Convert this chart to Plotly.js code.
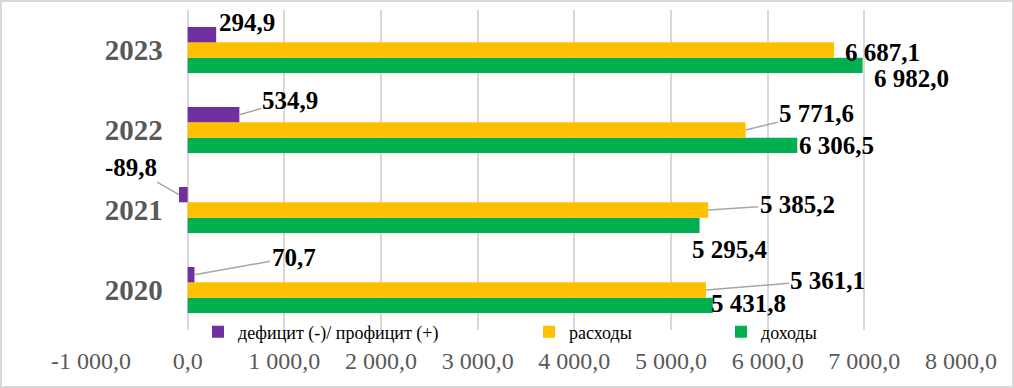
<!DOCTYPE html>
<html><head><meta charset="utf-8">
<script src="https://cdn.plot.ly/plotly-3.0.1.min.js"></script>
<style>
html,body{margin:0;padding:0;background:#fff;}
#wrap{position:relative;width:1014px;height:388px;}
#chart{width:1014px;height:388px;}
#frame{position:absolute;left:0;top:0;width:1014px;height:388px;box-sizing:border-box;border:2px solid #D9D9D9;pointer-events:none;}
</style>
</head><body>
<div id="wrap"><div id="chart"></div><div id="frame"></div></div>
<script>
// ---- data ----
const years = ['2020', '2021', '2022', '2023'];
const dohody = [5431.8, 5295.4, 6306.5, 6982.0];      // доходы
const rashody = [5361.1, 5385.2, 5771.6, 6687.1];     // расходы
const balance = [70.7, -89.8, 534.9, 294.9];          // дефицит (-)/ профицит (+)
const nameBalance = 'дефицит (-)/ профицит (+)';
const nameRashody = 'расходы';
const nameDohody = 'доходы';
const xTickVals = [-1000, 0, 1000, 2000, 3000, 4000, 5000, 6000, 7000, 8000];
const xTickText = ['-1 000,0', '0,0', '1 000,0', '2 000,0', '3 000,0', '4 000,0', '5 000,0', '6 000,0', '7 000,0', '8 000,0'];

// ---- styling / label placement (pixels) ----
const M = {l: 91, r: 53, t: 10, b: 58};
const W = 1014, H = 388;
const bargap = 0.425;
const plotH = H - M.t - M.b;
const barPx = plotH / years.length * (1 - bargap) / 3;
// [dx, dy, leader line] from bar end (screen px)
const offBalance = [[99, -17.5, true], [-48, -27.5, true], [51, -14.5, true], [30.5, -12, false]];
const offRashody = [[122, -10, true], [89, -6, true], [71, -17, true], [48, 2, false]];
const offDohody = [[36, -1.5, false], [30, 24, false], [39, 0.5, false], [49, 13, false]];

function fmt(v) {
  const neg = v < 0;
  const s = Math.abs(v).toFixed(1).split('.');
  const intp = s[0].replace(/\B(?=(\d{3})+(?!\d))/g, ' ');
  return (neg ? '-' : '') + intp + ',' + s[1];
}

const serif = 'Liberation Serif, Times New Roman, serif';
const traces = [
  {type: 'bar', orientation: 'h', y: years, x: dohody, name: nameDohody, marker: {color: '#00B050'}, legend: 'legend3', hoverinfo: 'x'},
  {type: 'bar', orientation: 'h', y: years, x: rashody, name: nameRashody, marker: {color: '#FFC000'}, legend: 'legend2', hoverinfo: 'x'},
  {type: 'bar', orientation: 'h', y: years, x: balance, name: nameBalance, marker: {color: '#7030A0'}, legend: 'legend', hoverinfo: 'x'}
];

const annotations = [];
function addLabels(vals, offs, shift) {
  vals.forEach((v, i) => {
    const [dx, dy, arrow] = offs[i];
    const a = {
      x: v, y: i, xref: 'x', yref: 'y',   // y = category index on the category axis
      text: fmt(v),
      font: {family: serif, size: 25, color: '#000000', weight: 'bold'},
      xanchor: 'center', yanchor: 'middle'
    };
    if (arrow) {
      Object.assign(a, {showarrow: true, ax: dx, ay: dy, yshift: shift, arrowhead: 0, arrowwidth: 1.5, arrowcolor: '#A6A6A6', standoff: 0, startstandoff: 0});
    } else {
      Object.assign(a, {showarrow: false, xshift: dx, yshift: shift - dy});
    }
    annotations.push(a);
  });
}
addLabels(dohody, offDohody, -barPx);
addLabels(rashody, offRashody, 0);
addLabels(balance, offBalance, barPx);

const plotW = W - M.l - M.r;
const px2x = p => (p - M.l) / plotW;
const legBase = {orientation: 'h', xanchor: 'left', yanchor: 'middle', y: (M.t + plotH - 332) / plotH, bgcolor: 'rgba(0,0,0,0)',
  font: {family: serif, size: 18, color: '#000000'}, itemwidth: 30};

const layout = {
  width: W, height: H,
  margin: M,
  paper_bgcolor: '#ffffff', plot_bgcolor: '#ffffff',
  barmode: 'group', bargap: bargap, bargroupgap: 0,
  showlegend: true,
  separators: ', ',
  xaxis: {
    range: [-1000, 8000], tickvals: xTickVals, ticktext: xTickText,
    showgrid: true, gridcolor: '#D9D9D9', gridwidth: 2, zeroline: false, showline: false,
    ticks: '', ticklabelstandoff: 14,
    tickfont: {family: serif, size: 24, color: '#595959'}
  },
  yaxis: {
    type: 'category', categoryorder: 'array', categoryarray: years,
    range: [-0.5, years.length - 0.5], autorange: false,
    anchor: 'free', position: 1 / 9, side: 'left',
    showgrid: false, zeroline: false, showline: false, ticks: '', ticklabelstandoff: 25,
    tickfont: {family: serif, size: 29, color: '#595959', weight: 'bold'}
  },
  legend: Object.assign({}, legBase, {x: px2x(198)}),
  legend2: Object.assign({}, legBase, {x: px2x(529)}),
  legend3: Object.assign({}, legBase, {x: px2x(721)}),
  annotations: annotations
};

Plotly.newPlot('chart', traces, layout, {displayModeBar: false, staticPlot: true});
</script>
</body></html>
